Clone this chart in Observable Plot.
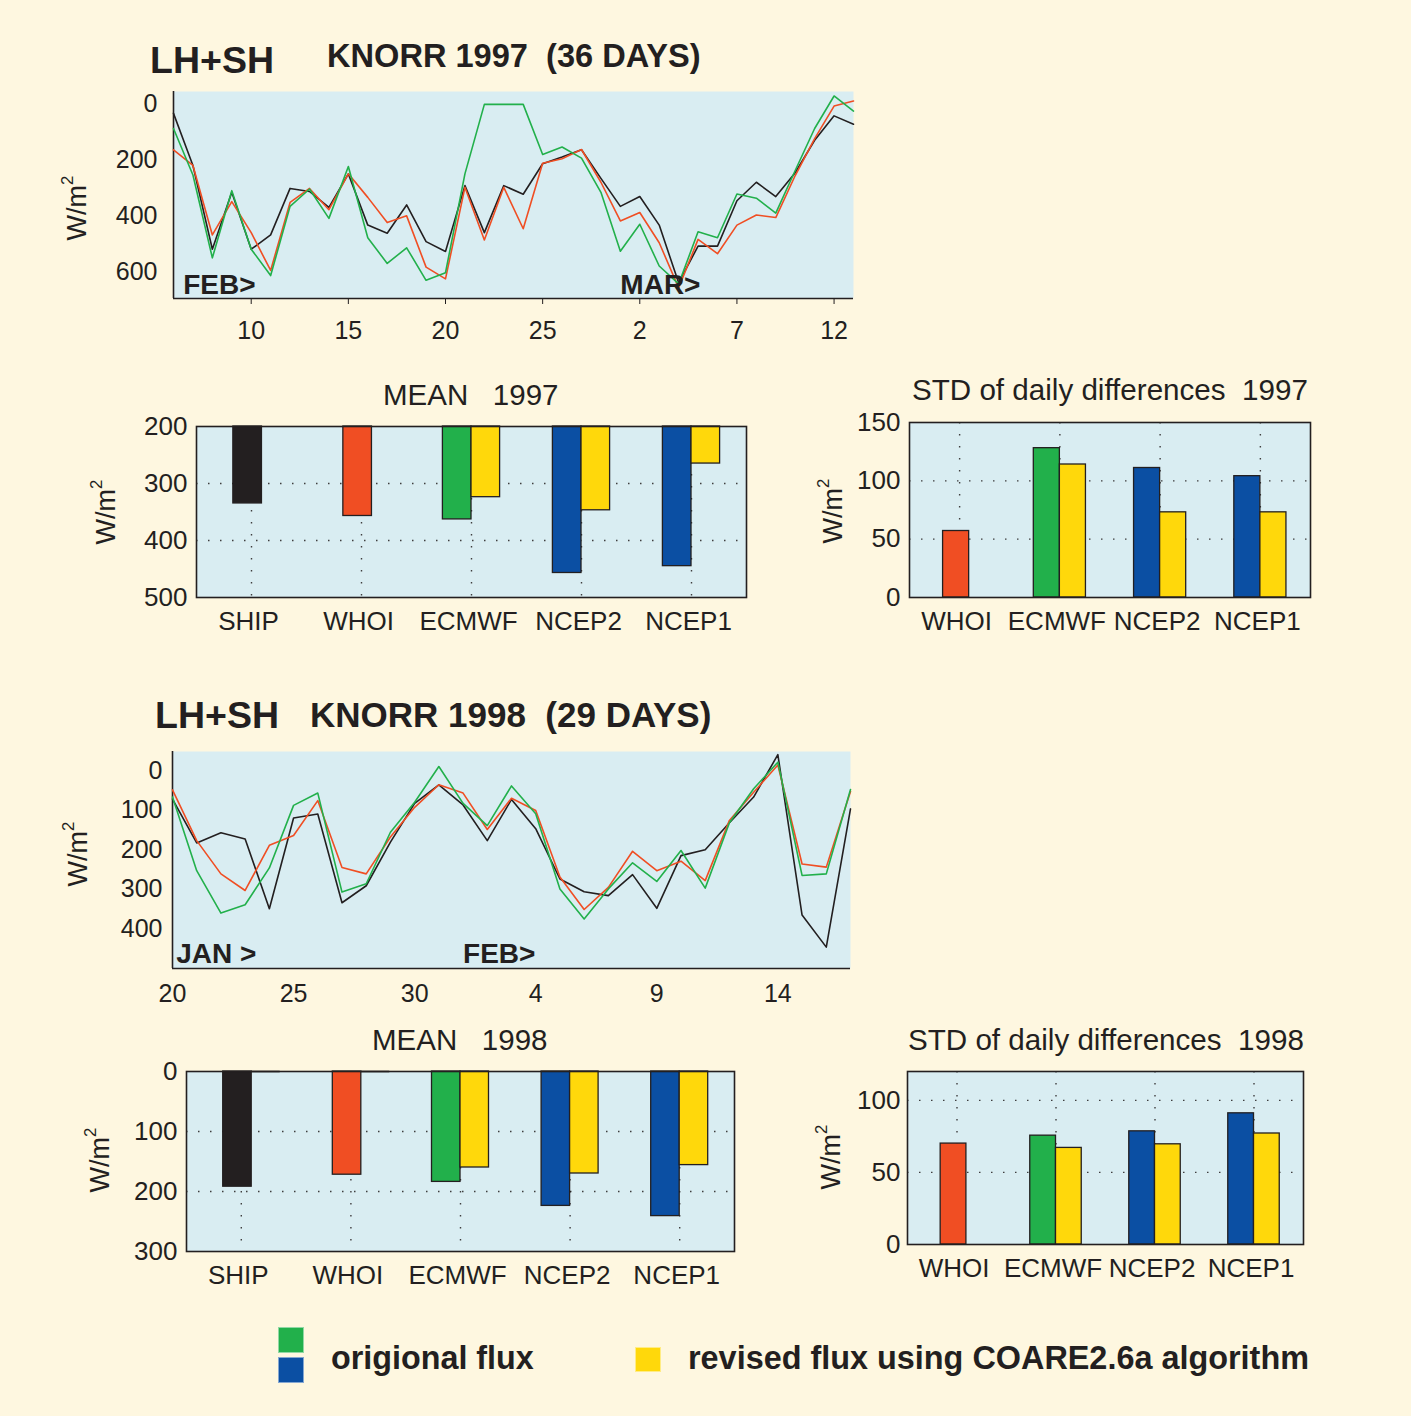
<!DOCTYPE html>
<html><head><meta charset="utf-8">
<script src="https://cdn.jsdelivr.net/npm/d3@7"></script>
<script src="https://cdn.jsdelivr.net/npm/@observablehq/plot@0.6"></script>
<style>
html,body{margin:0;padding:0;background:#fef7e0;}
#page{position:relative;width:1411px;height:1416px;overflow:hidden;background:#fef7e0;font-family:"Liberation Sans",Arial,Helvetica,sans-serif;color:#231f20;}
.abs{position:absolute;white-space:pre;line-height:1;}
.sq{position:absolute;box-sizing:border-box;border:1px solid rgba(255,255,255,0.5);}
</style></head><body><div id="page"></div>
<script>
// ---------------- DATA ----------------
// 1997: day numbers counted from Feb 1 (Mar 1 = 29), Feb 6 .. Mar 13
const days1997 = [6,7,8,9,10,11,12,13,14,15,16,17,18,19,20,21,22,23,24,25,26,27,28,29,30,31,32,33,34,35,36,37,38,39,40,41];
const ship1997  = [32,218,517,314,517,466,300,311,368,248,431,460,359,490,525,290,458,290,321,212,188,162,264,364,329,431,637,506,506,344,278,329,244,128,41,71];
const whoi1997  = [162,218,466,347,458,593,350,300,376,248,332,422,398,581,623,296,484,296,444,210,194,161,278,416,386,494,655,482,533,431,395,404,254,122,6,-12];
const ecmwf1997 = [86,252,548,308,517,611,364,302,407,222,476,568,512,628,601,248,0,0,0,179,152,192,314,524,428,577,641,455,476,320,335,388,236,86,-30,24];
const xTicks1997 = [10,15,20,25,30,35,40];
const xTickLabels1997 = ["10","15","20","25","2","7","12"];
const yTicks1997 = [0,200,400,600];
const months1997 = [{label:"FEB>", day:6.5},{label:"MAR>", day:29}];

// 1998: day numbers counted from Jan 1 (Feb 1 = 32), Jan 20 .. Feb 17
const days1998 = [20,21,22,23,24,25,26,27,28,29,30,31,32,33,34,35,36,37,38,39,40,41,42,43,44,45,46,47,48];
const ship1998  = [72,183,157,173,349,120,110,334,291,181,83,36,87,177,73,147,274,306,316,263,348,215,200,132,67,-40,365,446,97];
const whoi1998  = [49,177,261,303,189,164,76,245,261,168,93,36,57,149,70,101,269,351,295,204,253,229,278,126,55,-14,236,244,53];
const ecmwf1998 = [67,253,360,339,246,88,57,307,286,156,80,-10,83,139,39,109,299,375,299,233,280,202,297,132,46,-21,265,261,48];
const xTicks1998 = [20,25,30,35,40,45];
const xTickLabels1998 = ["20","25","30","4","9","14"];
const yTicks1998 = [0,100,200,300,400];
const months1998 = [{label:"JAN >", day:20.15},{label:"FEB>", day:32}];

// bar charts
const meanCats = ["SHIP","WHOI","ECMWF","NCEP2","NCEP1"];
const mean1997Orig = [335,357,363,457,445];
const mean1997Rev  = [null,null,324,347,265];
const mean1998Orig = [192,172,184,224,241];
const mean1998Rev  = [0,0,160,170,156];
const stdCats = ["WHOI","ECMWF","NCEP2","NCEP1"];
const std1997Orig = [57,128,111,104];
const std1997Rev  = [null,114,73,73];
const std1998Orig = [70,75.5,78.5,91];
const std1998Rev  = [null,67,69.5,77];

// ---------------- STYLE ----------------
const SKY = "#d9edf2", INK = "#231f20";
const C_SHIP = "#231f20", C_WHOI = "#f04e23", C_ECMWF = "#22b04b", C_NCEP = "#0b4fa3", C_REV = "#ffd80b";
const FONT = '"Liberation Sans", Arial, Helvetica, sans-serif';
const catColor = {SHIP: C_SHIP, WHOI: C_WHOI, ECMWF: C_ECMWF, NCEP2: C_NCEP, NCEP1: C_NCEP};
const page = document.getElementById("page");

function place(node, left, top) {
  node.style.position = "absolute";
  node.style.left = left + "px";
  node.style.top = top + "px";
  page.appendChild(node);
}
function text(str, x, baseline, size, weight) {
  const d = document.createElement("div");
  d.className = "abs";
  d.textContent = str;
  d.style.left = x + "px";
  d.style.top = (baseline - 0.8465 * size) + "px";
  d.style.fontSize = size + "px";
  d.style.fontWeight = weight || "normal";
  page.appendChild(d);
}
function ylab(cx, cy) {
  const d = document.createElement("div");
  d.className = "abs";
  d.innerHTML = 'W/m<span style="font-size:0.62em;position:relative;top:-0.75em">2</span>';
  d.style.fontSize = "27px";
  d.style.left = cx + "px";
  d.style.top = cy + "px";
  d.style.transform = "translate(-50%,-50%) rotate(-90deg)";
  page.appendChild(d);
}
function square(x, y, w, h, color) {
  const d = document.createElement("div");
  d.className = "sq";
  d.style.left = x + "px"; d.style.top = y + "px";
  d.style.width = w + "px"; d.style.height = h + "px";
  d.style.background = color;
  page.appendChild(d);
}
const baseStyle = {background: "transparent", fontFamily: FONT, fontSize: "25px", color: INK, overflow: "visible"};

function tsChart(o) {
  const series = [
    {values: o.ship, color: C_SHIP},
    {values: o.whoi, color: C_WHOI},
    {values: o.ecmwf, color: C_ECMWF}
  ];
  const xLabel = new Map(o.xTicks.map((t, i) => [t, o.xTickLabels[i]]));
  const marks = [
    Plot.frame({fill: SKY, stroke: null}),
    Plot.axisY({ticks: o.yTicks, tickSize: 0, tickPadding: o.yPad, fontSize: 25, label: null, tickFormat: d => String(d)}),
    Plot.axisX({ticks: o.xTicks, tickSize: o.xTickSize, tickPadding: o.xPad, fontSize: 25, label: null, tickFormat: d => xLabel.get(d)}),
    Plot.ruleX([o.xDomain[0]], {stroke: INK, strokeWidth: 1.6}),
    Plot.ruleY([o.yDomain[1]], {stroke: INK, strokeWidth: 1.6})
  ];
  for (const s of series) {
    marks.push(Plot.line(o.days.map((d, i) => ({day: d, v: s.values[i]})), {x: "day", y: "v", stroke: s.color, strokeWidth: 1.6}));
  }
  marks.push(Plot.text(o.months, {x: "day", frameAnchor: "bottom", text: "label", textAnchor: "start", lineAnchor: "bottom", dy: o.monthDy, fontWeight: "bold", fontSize: 28, fill: INK}));
  return Plot.plot({
    width: o.width, height: o.height,
    marginLeft: o.ml, marginRight: o.mr, marginTop: o.mt, marginBottom: o.mb,
    style: baseStyle,
    x: {domain: o.xDomain},
    y: {domain: o.yDomain, reverse: true},
    marks
  });
}

function barChart(o) {
  const W = 0.26, S0 = -0.165, S1 = 0.095;
  const base = o.yDomain[0];
  const bars = [], zeroLines = [];
  o.cats.forEach((c, i) => {
    const r = o.rev[i];
    if (r != null && r > 0) {
      bars.push({x1: i - W, x2: i, v: o.orig[i], fill: catColor[c]});
      bars.push({x1: i, x2: i + W, v: r, fill: C_REV});
    } else {
      bars.push({x1: i + S0, x2: i + S1, v: o.orig[i], fill: catColor[c]});
      if (r === 0) zeroLines.push({x1: i + S1, x2: i + S1 + W});
    }
  });
  const idx = o.cats.map((_, i) => i);
  return Plot.plot({
    width: o.width, height: o.height,
    marginLeft: o.ml, marginRight: o.mr, marginTop: o.mt, marginBottom: o.mb,
    style: baseStyle,
    x: {domain: [-0.5, o.cats.length - 0.5]},
    y: {domain: o.yDomain, reverse: o.reverse},
    color: {type: "identity"},
    marks: [
      Plot.frame({fill: SKY, stroke: null}),
      Plot.ruleY(o.grid, {stroke: INK, strokeOpacity: 0.85, strokeDasharray: "1.5,10.5", strokeWidth: 1.4}),
      Plot.ruleX(idx, {stroke: INK, strokeOpacity: 0.85, strokeDasharray: "1.5,10.5", strokeWidth: 1.4}),
      Plot.rect(bars, {x1: "x1", x2: "x2", y1: () => base, y2: "v", fill: "fill", stroke: INK, strokeWidth: 1.3}),
      Plot.ruleY(zeroLines, {y: () => base, x1: "x1", x2: "x2", stroke: INK, strokeWidth: 1.6}),
      Plot.axisY({ticks: o.yTicks, tickSize: 0, tickPadding: o.yPad, fontSize: 26, label: null, tickFormat: d => String(d)}),
      Plot.axisX({ticks: idx, tickSize: 0, tickPadding: 14, fontSize: 26, label: null, tickFormat: i => o.cats[i], dx: -3}),
      Plot.frame({stroke: INK, strokeWidth: 1.6})
    ]
  });
}

// ---------------- 1997 ----------------
text("LH+SH", 150, 74, 37.5, "bold");
text("KNORR 1997  (36 DAYS)", 327, 68, 32.6, "bold");
place(tsChart({
  days: days1997, ship: ship1997, whoi: whoi1997, ecmwf: ecmwf1997,
  xDomain: [6, 41], yDomain: [-46, 693], yTicks: yTicks1997, xTicks: xTicks1997, xTickLabels: xTickLabels1997,
  months: months1997, monthDy: -5, yPad: 16, xTickSize: 6, xPad: 17,
  width: 800, height: 277, ml: 100, mr: 20, mt: 20, mb: 50
}), 73, 71);
ylab(77, 208);

text("MEAN   1997", 383, 405, 29.5);
place(barChart({
  cats: meanCats, orig: mean1997Orig, rev: mean1997Rev,
  yDomain: [200, 500], reverse: true, yTicks: [200,300,400,500], grid: [300,400], yPad: 9,
  width: 680, height: 241, ml: 110, mr: 20, mt: 20, mb: 50
}), 86, 406);
ylab(106, 512);

text("STD of daily differences  1997", 912, 400, 29.6);
place(barChart({
  cats: stdCats, orig: std1997Orig, rev: std1997Rev,
  yDomain: [0, 150], reverse: false, yTicks: [0,50,100,150], grid: [50,100], yPad: 9,
  width: 511, height: 245, ml: 90, mr: 20, mt: 20, mb: 50
}), 819, 402);
ylab(833, 511);

// ---------------- 1998 ----------------
text("LH+SH", 155, 729, 37.5, "bold");
text("KNORR 1998  (29 DAYS)", 310, 727, 35, "bold");
place(tsChart({
  days: days1998, ship: ship1998, whoi: whoi1998, ecmwf: ecmwf1998,
  xDomain: [20, 48], yDomain: [-48, 500], yTicks: yTicks1998, xTicks: xTicks1998, xTickLabels: xTickLabels1998,
  months: months1998, monthDy: -6, yPad: 10, xTickSize: 0, xPad: 16,
  width: 798, height: 287, ml: 100, mr: 20, mt: 20, mb: 50
}), 72, 731);
ylab(78, 854);

text("MEAN   1998", 372, 1050, 29.5);
place(barChart({
  cats: meanCats, orig: mean1998Orig, rev: mean1998Rev,
  yDomain: [0, 300], reverse: true, yTicks: [0,100,200,300], grid: [100,200], yPad: 9,
  width: 668, height: 250, ml: 100, mr: 20, mt: 20, mb: 50
}), 86, 1051);
ylab(100, 1160);

text("STD of daily differences  1998", 908, 1050, 29.6);
place(barChart({
  cats: stdCats, orig: std1998Orig, rev: std1998Rev,
  yDomain: [0, 120], reverse: false, yTicks: [0,50,100], grid: [50,100], yPad: 7,
  width: 506, height: 243, ml: 90, mr: 20, mt: 20, mb: 50
}), 817, 1051);
ylab(831, 1157);

// ---------------- legend ----------------
square(278, 1327, 26, 26, C_ECMWF);
square(278, 1357, 26, 26, C_NCEP);
text("origional flux", 331, 1369, 32.3, "bold");
square(635, 1347, 26, 25, C_REV);
text("revised flux using COARE2.6a algorithm", 688, 1369, 32.4, "bold");
</script></body></html>
